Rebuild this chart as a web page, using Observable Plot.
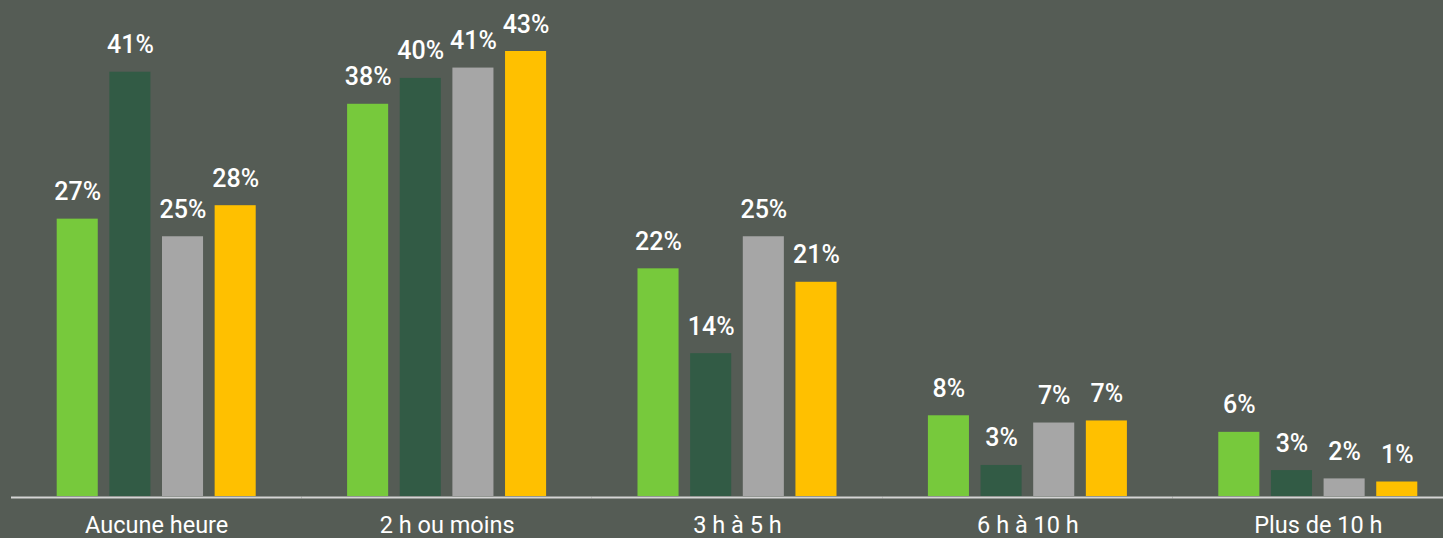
<!DOCTYPE html>
<html>
<head>
<meta charset="utf-8">
<script src="https://cdn.jsdelivr.net/npm/d3@7"></script>
<script src="https://cdn.jsdelivr.net/npm/@observablehq/plot@0.6"></script>
<style>
  html, body { margin: 0; padding: 0; background: #555c55; overflow: hidden; }
  #chart svg { display: block; overflow: hidden; }
</style>
</head>
<body>
<div id="chart"></div>
<script>
const categories = ["Aucune heure", "2 h ou moins", "3 h à 5 h", "6 h à 10 h", "Plus de 10 h"];
const seriesNames = ["Série 1", "Série 2", "Série 3", "Série 4"];
const seriesColors = ["#77c93c", "#325b45", "#a6a6a6", "#ffc000"];
const serie1 = [26.8, 37.9, 22.0, 7.8, 6.2];
const serie2 = [41.0, 40.4, 13.8, 3.0, 2.5];
const serie3 = [25.1, 41.4, 25.1, 7.1, 1.7];
const serie4 = [28.1, 43.0, 20.7, 7.3, 1.4];

const allSeries = [serie1, serie2, serie3, serie4];
const data = [];
categories.forEach((c, i) => {
  seriesNames.forEach((s, j) => {
    data.push({category: c, serie: s, value: allSeries[j][i]});
  });
});

const chart = Plot.plot({
  width: 1443,
  height: 538,
  marginLeft: 11,
  marginRight: -20,
  marginTop: 51,
  marginBottom: 42,
  style: {background: "#555c55", fontFamily: "Roboto, sans-serif", color: "white", overflow: "hidden"},
  fx: {domain: categories, padding: 0, round: false},
  x: {domain: seriesNames, paddingInner: 0.22, paddingOuter: 0.868, round: false, axis: null},
  y: {domain: [0, 43], axis: null},
  color: {domain: seriesNames, range: seriesColors},
  marks: [
    Plot.barY(data, {fx: "category", x: "serie", y: "value", fill: "serie"}),
    Plot.ruleY([0], {stroke: "#d4d4d4", strokeWidth: 2, dy: 1}),
    Plot.text(data, {
      fx: "category", x: "serie", y: "value",
      text: d => Math.round(d.value) + "%",
      fill: "white", fontSize: 25, fontWeight: 500, lineAnchor: "bottom", dy: -19
    }),
    Plot.axisFx({anchor: "bottom", tickSize: 0, tickPadding: 20, fontSize: 23.5, fill: "white", label: null})
  ]
});
document.getElementById("chart").appendChild(chart);
</script>
</body>
</html>
